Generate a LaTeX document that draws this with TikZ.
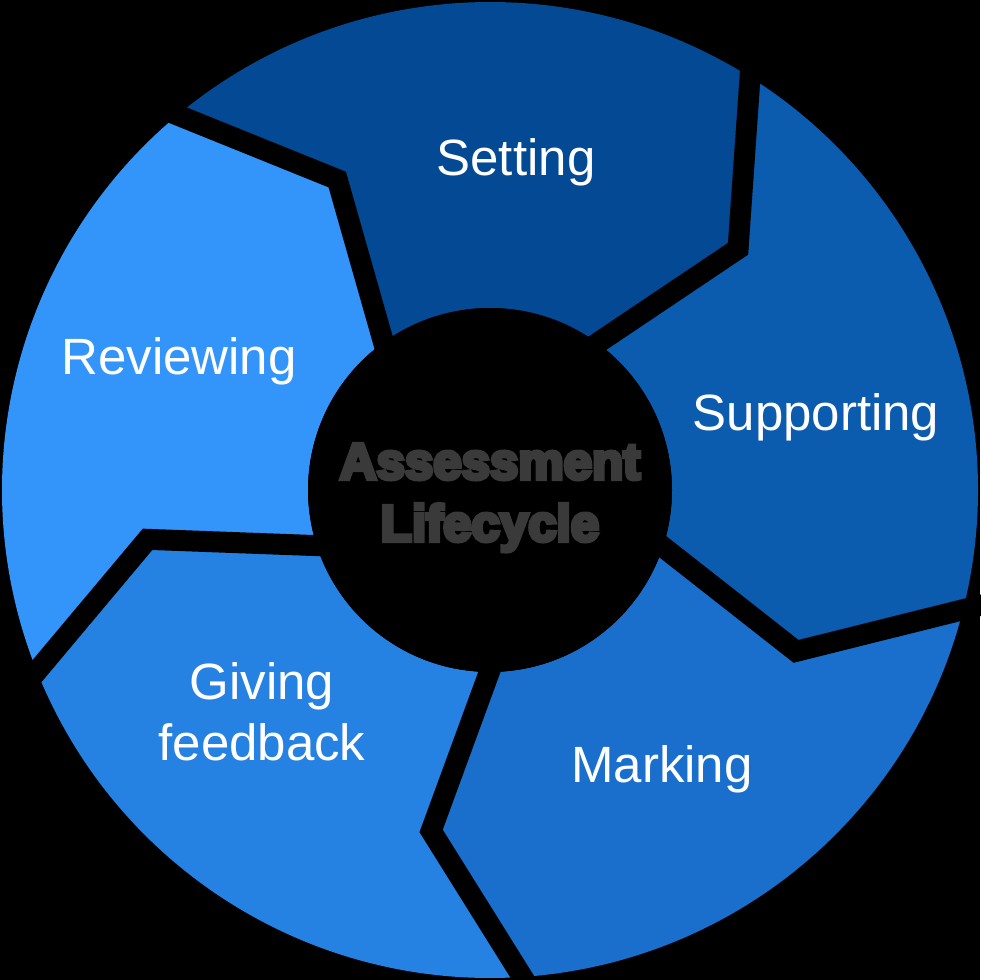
\documentclass[tikz,border=0pt]{standalone}
\usepackage{fontspec}
\setmainfont{Liberation Sans}
\newfontface\centrefont{Liberation Sans Bold}[FakeBold=8]
\definecolor{setc}{RGB}{3,73,148}
\definecolor{supc}{RGB}{11,91,174}
\definecolor{mrkc}{RGB}{26,111,204}
\definecolor{givc}{RGB}{38,130,226}
\definecolor{revc}{RGB}{51,149,250}
\definecolor{ctrc}{RGB}{58,58,58}
\tikzset{
  seglabel/.style={text=white, inner sep=0pt, font=\fontsize{51}{61}\selectfont, align=center},
  centrelabel/.style={text=ctrc, inner sep=0pt, font=\centrefont\fontsize{51}{62}\selectfont, align=center},
  gapline/.style={black, line width=21pt, line join=miter, shorten <=-40pt, shorten >=-40pt}
}
\newcommand{\segfill}[3]{% colour, start boundary offset angle, end offset
  \pgfmathsetmacro{\oa}{57.8+#2}\pgfmathsetmacro{\ob}{57.8+#3}%
  \pgfmathsetmacro{\ka}{44.2+#2}\pgfmathsetmacro{\kb}{44.2+#3}%
  \pgfmathsetmacro{\ia}{53.8+#2}\pgfmathsetmacro{\ib}{53.8+#3}%
  \fill[#1] (\oa:488) arc[start angle=\oa, end angle=\ob, radius=488]
     -- (\kb:346) -- (\ib:182) arc[start angle=\ib, end angle=\ia, radius=182]
     -- (\ka:346) -- cycle;}
\newcommand{\gapdraw}[1]{%
  \pgfmathsetmacro{\oa}{57.8+#1}\pgfmathsetmacro{\ka}{44.2+#1}\pgfmathsetmacro{\ia}{53.8+#1}%
  \draw[gapline] (\ia:182) -- (\ka:346) -- (\oa:488);}
\begin{document}
\begin{tikzpicture}[x=1pt,y=1pt]
\fill[black] (0,0) rectangle (980,980);
\useasboundingbox (0,0) rectangle (980,980);
\begin{scope}[shift={(490,490)}]
  \segfill{setc}{0}{72}
  \segfill{revc}{72}{144}
  \segfill{givc}{144}{216}
  \segfill{mrkc}{216}{288}
  \segfill{supc}{288}{360}
  \foreach \b in {0,72,144,216,288} {\gapdraw{\b}}
  \fill[black] (0,0) circle[radius=182];
\end{scope}
\node[seglabel, anchor=base] (setting) at (516,804) {Setting};
\node[seglabel, anchor=base] (supporting) at (816,549) {Supporting};
\node[seglabel, anchor=base] (marking) at (662,197) {Marking};
\node[seglabel, anchor=base] (giving) at (262,219) {Giving\\feedback};
\node[seglabel, anchor=base] (reviewing) at (179,605) {Reviewing};
\node[centrelabel, anchor=base] (centre) at (490,439) {Assessment\\Lifecycle};
\end{tikzpicture}
\end{document}
